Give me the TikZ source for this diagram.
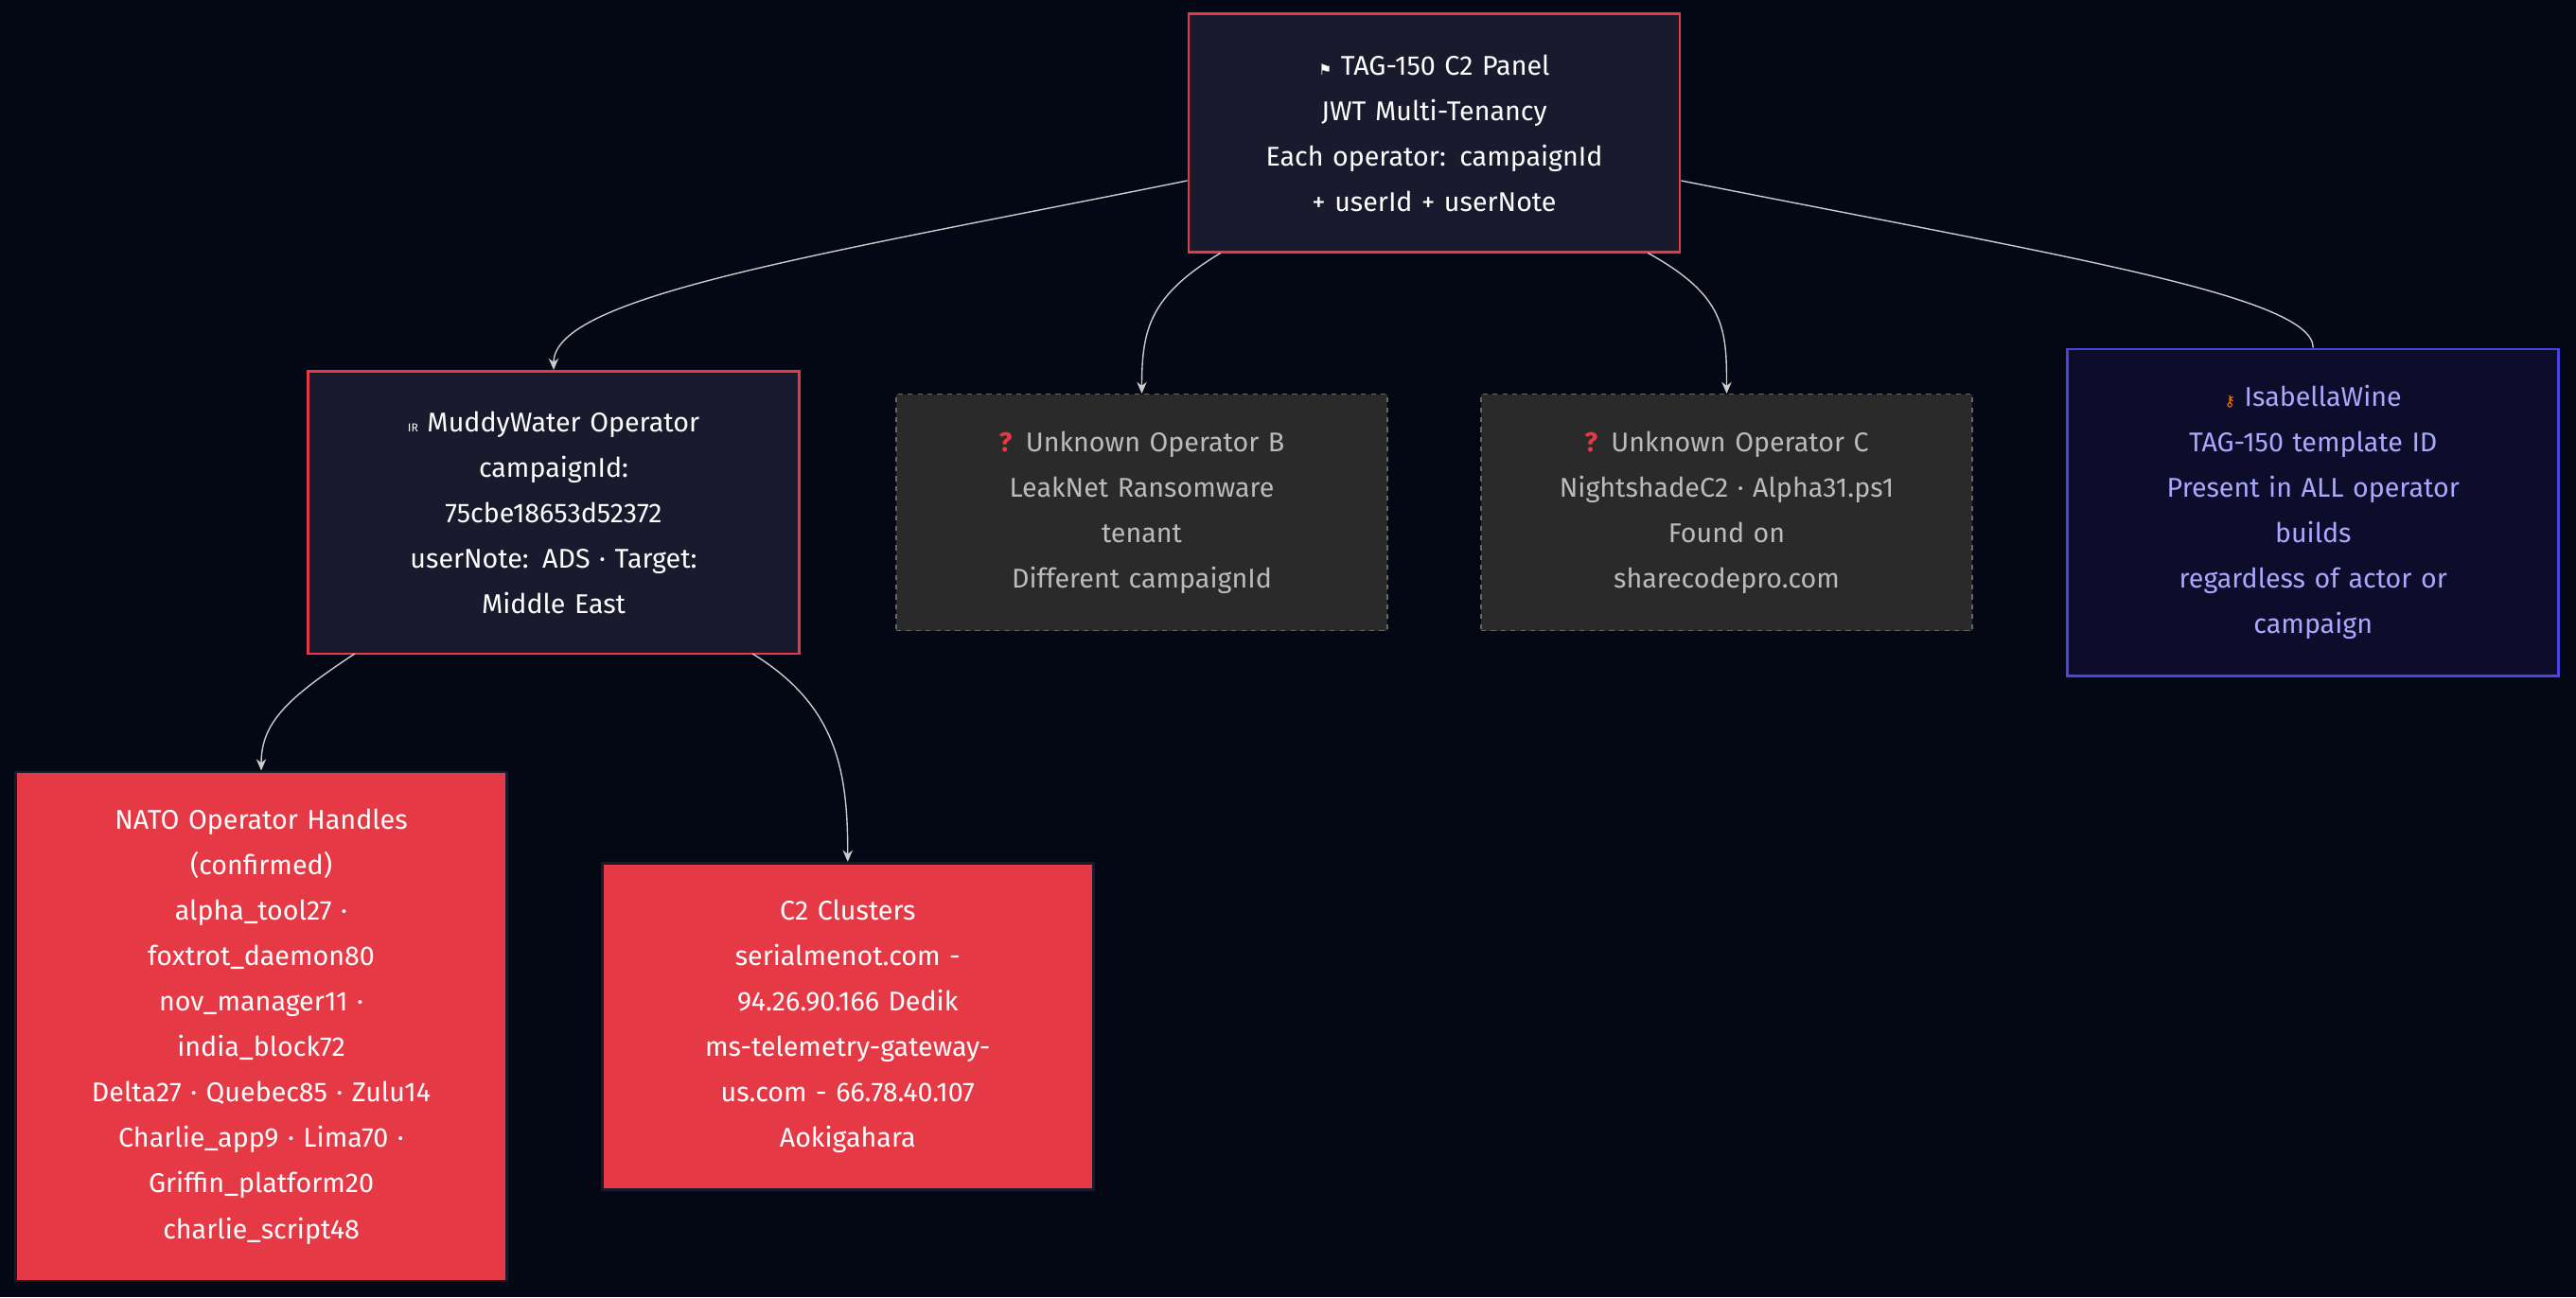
\documentclass[tikz,border=0pt]{standalone}
\usepackage{fontspec}
\setmainfont{Fira Sans}
\newfontfamily\symfont{DejaVu Sans}
\usetikzlibrary{arrows.meta}
\definecolor{bg}{HTML}{030814}
\definecolor{panel}{HTML}{1A1A2E}
\definecolor{alert}{HTML}{E63946}
\definecolor{unk}{HTML}{2A2A2A}
\definecolor{unkline}{HTML}{666666}
\definecolor{unktext}{HTML}{BBBBBB}
\definecolor{tmpl}{HTML}{0D0D2B}
\definecolor{tmplline}{HTML}{4B45E0}
\definecolor{tmpltext}{HTML}{A8A8FF}
\definecolor{edge}{HTML}{CCCCCC}
\tikzset{
  box/.style={draw,rectangle,line width=1.6pt,align=center,text width=280pt,
    minimum width=299pt,font=\fontsize{16.5}{27.7}\selectfont},
  core/.style={box,fill=panel,draw=alert,text=white},
  unknown/.style={box,fill=unk,draw=unkline,dashed,line width=0.8pt,text=unktext},
  template/.style={box,fill=tmpl,draw=tmplline,text=tmpltext},
  finding/.style={box,fill=alert,draw=panel,text=white},
  link/.style={draw=edge,line width=0.8pt,-{Stealth[length=7pt,width=6pt]}}
}
\begin{document}
\begin{tikzpicture}[x=1pt,y=-1pt]
  \fill[bg] (0,0) rectangle (1568,790);
  \useasboundingbox (0,0) rectangle (1568,790);

  \node[core,minimum height=145pt] (Panel) at (873,81)
    {{\symfont\small ⚑} TAG-150 C2 Panel\\JWT Multi-Tenancy\\Each operator: campaignId\\+ userId + userNote};
  \node[core,minimum height=172pt] (Muddy) at (337,312)
    {{\scriptsize IR} MuddyWater Operator\\campaignId:\\75cbe18653d52372\\userNote: ADS · Target:\\Middle East};
  \node[unknown,minimum height=144pt] (OpB) at (695,312)
    {\textcolor{alert}{\textbf{?}} Unknown Operator B\\LeakNet Ransomware\\tenant\\Different campaignId};
  \node[unknown,minimum height=144pt] (OpC) at (1051,312)
    {\textcolor{alert}{\textbf{?}} Unknown Operator C\\NightshadeC2 · Alpha31.ps1\\Found on\\sharecodepro.com};
  \node[template,minimum height=199pt] (Isabella) at (1408,312)
    {{\symfont\small\color{orange}⚷} IsabellaWine\\TAG-150 template ID\\Present in ALL operator\\builds\\regardless of actor or\\campaign};
  \node[finding,minimum height=310pt] (Handles) at (159,625)
    {NATO Operator Handles\\(confirmed)\\alpha\_tool27 ·\\foxtrot\_daemon80\\nov\_manager11 ·\\india\_block72\\Delta27 · Quebec85 · Zulu14\\Charlie\_app9 · Lima70 ·\\Griffin\_platform20\\charlie\_script48};
  \node[finding,minimum height=199pt] (Clusters) at (516,625)
    {C2 Clusters\\serialmenot.com -\\94.26.90.166 Dedik\\ms-telemetry-gateway-\\us.com - 66.78.40.107\\Aokigahara};

  \draw[link] (Panel.west |- 0,110) .. controls (500,155) and (337,180) .. (Muddy.north);
  \draw[link] (743,154) .. controls (700,180) and (695,200) .. (OpB.north);
  \draw[link] (1003,154) .. controls (1050,180) and (1051,200) .. (OpC.north);
  \draw[draw=edge,line width=0.8pt] (Panel.east |- 0,110) .. controls (1250,155) and (1408,180) .. (Isabella.north);
  \draw[link] (216,398) .. controls (175,425) and (159,440) .. (Handles.north);
  \draw[link] (458,398) .. controls (510,430) and (516,470) .. (Clusters.north);
\end{tikzpicture}
\end{document}
